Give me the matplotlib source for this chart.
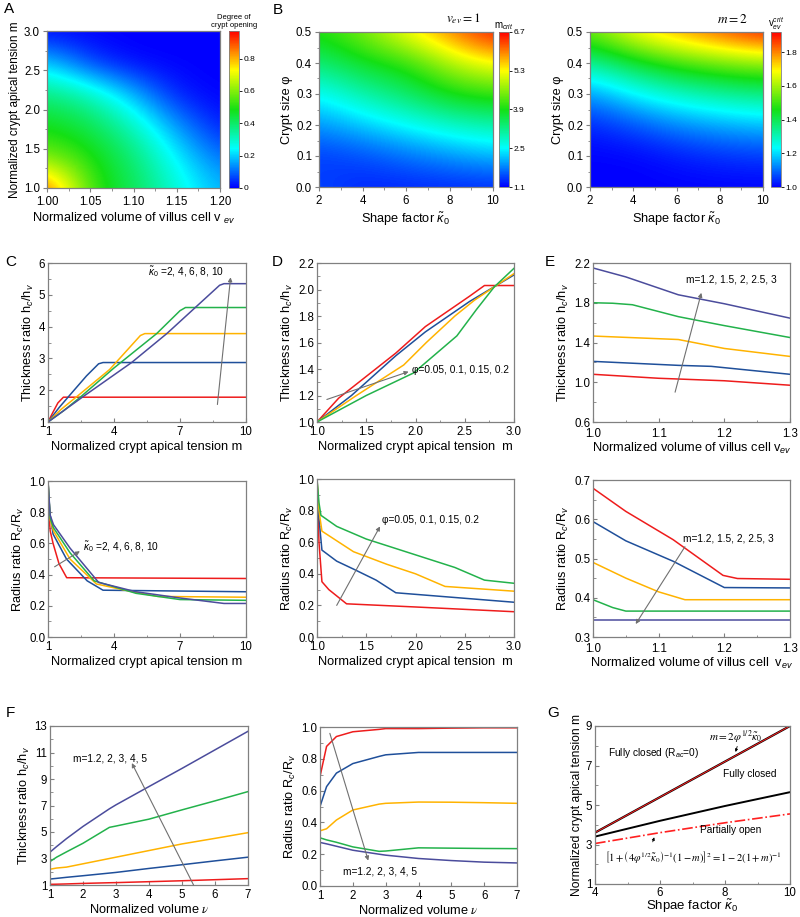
import numpy as np
import matplotlib
matplotlib.use('Agg')
import matplotlib.pyplot as plt
from matplotlib.colors import LinearSegmentedColormap
from matplotlib.ticker import AutoMinorLocator

plt.rcParams['font.family'] = ['Liberation Sans', 'DejaVu Sans']
plt.rcParams['mathtext.fontset'] = 'custom'
plt.rcParams['mathtext.rm'] = 'Liberation Sans'
plt.rcParams['mathtext.it'] = 'Liberation Sans:italic'
plt.rcParams['mathtext.bf'] = 'Liberation Sans:bold'
plt.rcParams['axes.edgecolor'] = '#808080'
plt.rcParams['axes.linewidth'] = 0.9

# ---------------- data ----------------
# A: degree of crypt opening, rows = m, cols = v_ev
a_vev = [1.00, 1.05, 1.10, 1.15, 1.20]
a_m = [1.0, 1.4, 1.8, 2.2, 2.6, 3.0]
a_open = [[0.92, 0.52, 0.42, 0.28, 0.17],
          [0.58, 0.50, 0.39, 0.23, 0.10],
          [0.48, 0.43, 0.31, 0.14, 0.02],
          [0.38, 0.32, 0.17, 0.02, 0.00],
          [0.20, 0.05, 0.00, 0.00, 0.00],
          [0.00, 0.00, 0.00, 0.00, 0.00]]

# B: m_crit and v_ev^crit, rows = phi, cols = kappa0
b_kappa = [2, 4, 6, 8, 10]
b_phi = [0.0, 0.1, 0.2, 0.3, 0.4, 0.5]
b_mcrit = [[1.5, 1.3, 1.3, 1.3, 1.3],
           [1.4, 1.5, 1.7, 1.9, 2.1],
           [1.9, 2.2, 2.5, 2.8, 3.0],
           [2.5, 3.0, 3.4, 3.9, 4.1],
           [3.3, 3.8, 4.0, 4.8, 5.3],
           [4.0, 4.5, 5.3, 6.0, 6.7]]
b_vcrit = [[1.00, 1.00, 1.00, 1.00, 1.00],
           [1.00, 1.00, 1.02, 1.04, 1.05],
           [1.03, 1.07, 1.12, 1.15, 1.17],
           [1.13, 1.22, 1.28, 1.32, 1.35],
           [1.32, 1.42, 1.50, 1.55, 1.58],
           [1.55, 1.70, 1.78, 1.85, 1.92]]

line_colors = ['#ee1c1c', '#1f4f9a', '#ffb300', '#23b24b', '#4b4c9c']

# C: kappa0 = 2, 4, 6, 8, 10
c_top_m = [[1, 1.22, 1.45, 1.7, 10],
           [1, 1.5, 2.06, 2.75, 3.3, 3.5, 10],
           [1, 1.6, 2.4, 3.8, 5.2, 5.4, 10],
           [1, 1.7, 2.5, 4.0, 5.94, 7.0, 7.25, 10],
           [1, 1.8, 2.6, 4.8, 6.4, 8.8, 9.0, 10]]
c_top_h = [[1, 1.3, 1.6, 1.78, 1.78],
           [1, 1.45, 1.9, 2.45, 2.83, 2.87, 2.87],
           [1, 1.4, 1.85, 2.65, 3.72, 3.78, 3.78],
           [1, 1.35, 1.8, 2.7, 3.78, 4.5, 4.6, 4.6],
           [1, 1.4, 1.8, 2.87, 3.78, 5.3, 5.35, 5.35]]
c_bot_m = [[1, 1.03, 1.1, 1.23, 1.5, 1.85, 10],
           [1, 1.08, 1.23, 1.84, 2.78, 3.5, 10],
           [1, 1.1, 1.25, 2.0, 3.2, 4.5, 6, 10],
           [1, 1.1, 1.25, 2.0, 3.1, 5, 7, 10],
           [1, 1.1, 1.25, 2.0, 3.3, 5, 7, 9, 10]]
c_bot_r = [[1, 0.8, 0.68, 0.6, 0.47, 0.38, 0.375],
           [1, 0.8, 0.66, 0.5, 0.36, 0.3, 0.29],
           [1, 0.75, 0.68, 0.5, 0.34, 0.3, 0.26, 0.255],
           [1, 0.76, 0.7, 0.54, 0.36, 0.28, 0.24, 0.235],
           [1, 0.78, 0.72, 0.57, 0.35, 0.29, 0.25, 0.215, 0.215]]

# D: phi = 0.05, 0.1, 0.15, 0.2
d_top_m = [[1, 1.22, 1.8, 2.1, 2.55, 2.7, 3],
           [1, 1.35, 1.8, 2.1, 2.55, 3],
           [1, 1.4, 1.88, 2.11, 2.4, 2.6, 3],
           [1, 1.5, 1.98, 2.42, 2.62, 2.8, 3]]
d_top_h = [[1, 1.18, 1.52, 1.72, 1.95, 2.03, 2.03],
           [1, 1.2, 1.5, 1.68, 1.91, 2.11],
           [1, 1.2, 1.43, 1.6, 1.8, 1.92, 2.12],
           [1, 1.2, 1.37, 1.65, 1.85, 2.02, 2.16]]
d_bot_m = [[1, 1.02, 1.05, 1.12, 1.3, 2.0, 3],
           [1, 1.02, 1.05, 1.2, 1.37, 1.6, 1.8, 3],
           [1, 1.02, 1.05, 1.37, 1.71, 2.0, 2.3, 3],
           [1, 1.02, 1.04, 1.2, 1.5, 2.0, 2.4, 2.7, 3]]
d_bot_r = [[1, 0.6, 0.35, 0.3, 0.21, 0.19, 0.16],
           [1, 0.75, 0.55, 0.48, 0.43, 0.36, 0.28, 0.22],
           [1, 0.8, 0.67, 0.54, 0.46, 0.4, 0.32, 0.29],
           [1, 0.85, 0.77, 0.7, 0.62, 0.52, 0.44, 0.36, 0.34]]

# E: m = 1.2, 1.5, 2, 2.5, 3
e_top_v = [[1.0, 1.1, 1.2, 1.3],
           [1.0, 1.13, 1.18, 1.3],
           [1.0, 1.13, 1.2, 1.3],
           [1.0, 1.03, 1.06, 1.13, 1.2, 1.3],
           [1.0, 1.05, 1.13, 1.2, 1.3]]
e_top_h = [[1.08, 1.04, 1.015, 0.97],
           [1.21, 1.17, 1.16, 1.08],
           [1.465, 1.43, 1.34, 1.26],
           [1.80, 1.795, 1.78, 1.66, 1.57, 1.45],
           [2.15, 2.06, 1.88, 1.79, 1.645]]
e_bot_v = [[1.0, 1.05, 1.122, 1.198, 1.22, 1.3],
           [1.0, 1.05, 1.122, 1.2, 1.3],
           [1.0, 1.05, 1.1, 1.14, 1.3],
           [1.0, 1.03, 1.05, 1.3],
           [1.0, 1.3]]
e_bot_r = [[0.679, 0.62, 0.548, 0.457, 0.449, 0.447],
           [0.594, 0.545, 0.493, 0.426, 0.425],
           [0.49, 0.45, 0.415, 0.395, 0.395],
           [0.395, 0.375, 0.366, 0.366],
           [0.343, 0.343]]

# F: m = 1.2, 2, 3, 4, 5
f_nu = [1, 1.2, 1.5, 2, 2.8, 3, 4, 5, 6, 7]
f_h = [[1.05, 1.06, 1.08, 1.12, 1.17, 1.18, 1.25, 1.32, 1.40, 1.48],
       [1.45, 1.50, 1.58, 1.70, 1.90, 1.95, 2.25, 2.53, 2.82, 3.10],
       [2.19, 2.28, 2.35, 2.60, 3.00, 3.10, 3.60, 4.10, 4.52, 4.95],
       [2.77, 3.10, 3.50, 4.15, 5.35, 5.45, 5.97, 6.67, 7.35, 8.05],
       [3.48, 3.90, 4.50, 5.42, 6.75, 7.05, 8.43, 9.80, 11.2, 12.6]]
f_r = [[0.688, 0.878, 0.94, 0.97, 0.985, 0.99, 0.99, 0.993, 0.995, 0.995],
       [0.50, 0.625, 0.71, 0.77, 0.815, 0.825, 0.84, 0.84, 0.84, 0.84],
       [0.347, 0.36, 0.415, 0.478, 0.515, 0.52, 0.528, 0.527, 0.524, 0.52],
       [0.303, 0.29, 0.275, 0.246, 0.218, 0.22, 0.24, 0.238, 0.236, 0.235],
       [0.274, 0.265, 0.25, 0.225, 0.2, 0.194, 0.173, 0.16, 0.15, 0.145]]

# G: phase boundaries
g_kappa = [4, 6, 8, 10]
g_closed = [3.6, 5.4, 7.2, 9.0]
g_mid = [3.4, 4.2, 4.95, 5.65]
g_partial = [3.05, 3.6, 4.1, 4.55]

# ---------------- figure ----------------
W, H = 800, 917
fig = plt.figure(figsize=(W / 100, H / 100), dpi=100)


def px_rect(x0, y0, x1, y1):
    return [x0 / W, 1 - y1 / H, (x1 - x0) / W, (y1 - y0) / H]


rainbow = LinearSegmentedColormap.from_list(
    'rainbow_origin', ['#0000ff', '#00ffff', '#14e014', '#ffff00', '#ff0000'])

TICK = 8.3
LAB = 9.2
NOTE = 7.3


def style(ax, xminor=2, yminor=2):
    ax.xaxis.set_minor_locator(AutoMinorLocator(xminor))
    ax.yaxis.set_minor_locator(AutoMinorLocator(yminor))
    ax.tick_params(which='both', direction='in', labelsize=TICK, color='#808080',
                   top=False, right=False, pad=2)
    ax.tick_params(axis='x', which='major', pad=3)
    ax.tick_params(which='major', length=3)
    ax.tick_params(which='minor', length=1.8)


def heat(rect, crect, x, y, z, vmin, vmax, cticks, clabels, xticks, yticks):
    ax = fig.add_axes(px_rect(*rect))
    dx = (x[-1] - x[0]) / (len(x) - 1)
    dy = (y[-1] - y[0]) / (len(y) - 1)
    im = ax.imshow(np.array(z), origin='lower', cmap=rainbow, vmin=vmin, vmax=vmax,
                   extent=[x[0] - dx / 2, x[-1] + dx / 2, y[0] - dy / 2, y[-1] + dy / 2],
                   aspect='auto', interpolation='bicubic')
    ax.set_xlim(x[0], x[-1])
    ax.set_ylim(y[0], y[-1])
    ax.set_xticks(xticks)
    ax.set_yticks(yticks)
    style(ax)
    ax.tick_params(which='both', direction='out')
    cax = fig.add_axes(px_rect(*crect))
    cb = fig.colorbar(im, cax=cax)
    cb.set_ticks(cticks)
    cb.set_ticklabels(clabels)
    cb.ax.tick_params(labelsize=6, length=2, width=0.6, pad=1)
    cb.outline.set_linewidth(0.6)
    return ax, cax


def lines(ax, xs, ys, cols):
    for x, y, c in zip(xs, ys, cols):
        ax.plot(x, y, color=c, lw=1.1)


arrow_kw = dict(arrowstyle='-|>', color='#707070', lw=0.8, mutation_scale=6,
                shrinkA=0, shrinkB=0)

# ----- A -----
axA, caxA = heat((47, 31, 220, 188), (229, 31, 239, 188), a_vev, a_m, a_open,
                 0, 0.97, [0, 0.2, 0.4, 0.6, 0.8], ['0', '0.2', '0.4', '0.6', '0.8'],
                 a_vev, [1.0, 1.5, 2.0, 2.5, 3.0])
axA.set_xticklabels(['1.00', '1.05', '1.10', '1.15', '1.20'])
axA.set_yticklabels(['1.0', '1.5', '2.0', '2.5', '3.0'])
axA.set_xlabel('Normalized volume of villus cell v $_{ev}$', fontsize=LAB, labelpad=2)
axA.set_ylabel('Normalized crypt apical tension m', fontsize=LAB - 0.7, labelpad=2)
caxA.set_title('Degree of\ncrypt opening', fontsize=5.5, pad=3)

# ----- B (v_ev = 1) -----
axB, caxB = heat((319, 32, 493, 187), (499, 32, 509, 187), b_kappa, b_phi, b_mcrit,
                 1.1, 6.7, [1.1, 2.5, 3.9, 5.3, 6.7], ['1.1', '2.5', '3.9', '5.3', '6.7'],
                 b_kappa, b_phi)
axB.set_yticklabels(['0.0', '0.1', '0.2', '0.3', '0.4', '0.5'])
axB.set_xlabel(r'Shape factor $\tilde{\kappa}_0$', fontsize=LAB, labelpad=2)
axB.set_ylabel('Crypt size φ', fontsize=LAB, labelpad=2)
axB.text(0.93, 1.04, r'$v_{ev}=1$', transform=axB.transAxes, ha='right', va='bottom',
         fontsize=9.5, math_fontfamily='stix')
caxB.set_title(r'm$_{crit}$', fontsize=7, pad=3)

# ----- B (m = 2) -----
axB2, caxB2 = heat((590, 32, 763, 187), (771, 32, 781, 187), b_kappa, b_phi, b_vcrit,
                   1.0, 1.92, [1.0, 1.2, 1.4, 1.6, 1.8], ['1.0', '1.2', '1.4', '1.6', '1.8'],
                   b_kappa, b_phi)
axB2.set_yticklabels(['0.0', '0.1', '0.2', '0.3', '0.4', '0.5'])
axB2.set_xlabel(r'Shape factor $\tilde{\kappa}_0$', fontsize=LAB, labelpad=2)
axB2.set_ylabel('Crypt size φ', fontsize=LAB, labelpad=2)
axB2.text(0.91, 1.04, r'$m=2$', transform=axB2.transAxes, ha='right', va='bottom',
          fontsize=9.5, math_fontfamily='stix')
caxB2.set_title(r'v$_{ev}^{crit}$', fontsize=7, pad=3)

# ----- C -----
axC1 = fig.add_axes(px_rect(48, 263, 246, 422))
lines(axC1, c_top_m, c_top_h, line_colors)
axC1.set_xlim(1, 10)
axC1.set_ylim(1, 6)
axC1.set_xticks([1, 4, 7, 10])
axC1.set_yticks([1, 2, 3, 4, 5, 6])
style(axC1)
axC1.set_xlabel('Normalized crypt apical tension m', fontsize=LAB, labelpad=2)
axC1.set_ylabel(r'Thickness ratio h$_c$/h$_v$', fontsize=LAB, labelpad=2)
axC1.annotate('', xy=(9.3, 5.55), xytext=(8.7, 1.55), arrowprops=arrow_kw)
axC1.text(9.0, 5.72, r'$\tilde{\kappa}_0$ =2, 4, 6, 8, 10', ha='right', va='center',
          fontsize=NOTE)

axC2 = fig.add_axes(px_rect(48, 481, 246, 637))
lines(axC2, c_bot_m, c_bot_r, line_colors)
axC2.set_xlim(1, 10)
axC2.set_ylim(0, 1)
axC2.set_xticks([1, 4, 7, 10])
axC2.set_yticks([0, 0.2, 0.4, 0.6, 0.8, 1.0])
style(axC2)
axC2.set_xlabel('Normalized crypt apical tension m', fontsize=LAB, labelpad=2)
axC2.set_ylabel(r'Radius ratio R$_c$/R$_v$', fontsize=LAB, labelpad=2)
axC2.annotate('', xy=(2.45, 0.55), xytext=(1.3, 0.45), arrowprops=arrow_kw)
axC2.text(2.6, 0.58, r'$\tilde{\kappa}_0$ =2, 4, 6, 8, 10', ha='left', va='center',
          fontsize=NOTE)

# ----- D -----
axD1 = fig.add_axes(px_rect(317, 263, 514, 422))
lines(axD1, d_top_m, d_top_h, line_colors[:4])
axD1.set_xlim(1, 3)
axD1.set_ylim(1.0, 2.2)
axD1.set_xticks([1.0, 1.5, 2.0, 2.5, 3.0])
axD1.set_yticks([1.0, 1.2, 1.4, 1.6, 1.8, 2.0, 2.2])
style(axD1)
axD1.set_xlabel('Normalized crypt apical tension  m', fontsize=LAB, labelpad=2)
axD1.set_ylabel(r'Thickness ratio h$_c$/h$_v$', fontsize=LAB, labelpad=2)
axD1.annotate('', xy=(1.93, 1.38), xytext=(1.1, 1.17), arrowprops=arrow_kw)
axD1.text(1.96, 1.39, 'φ=0.05, 0.1, 0.15, 0.2', ha='left', va='center', fontsize=NOTE)

axD2 = fig.add_axes(px_rect(317, 479, 514, 637))
lines(axD2, d_bot_m, d_bot_r, line_colors[:4])
axD2.set_xlim(1, 3)
axD2.set_ylim(0, 1)
axD2.set_xticks([1.0, 1.5, 2.0, 2.5, 3.0])
axD2.set_yticks([0, 0.2, 0.4, 0.6, 0.8, 1.0])
style(axD2)
axD2.set_xlabel('Normalized crypt apical tension  m', fontsize=LAB, labelpad=2)
axD2.set_ylabel(r'Radius ratio R$_c$/R$_v$', fontsize=LAB, labelpad=2)
axD2.annotate('', xy=(1.64, 0.7), xytext=(1.2, 0.2), arrowprops=arrow_kw)
axD2.text(1.66, 0.74, 'φ=0.05, 0.1, 0.15, 0.2', ha='left', va='center', fontsize=NOTE)

# ----- E -----
axE1 = fig.add_axes(px_rect(593, 263, 790, 422))
lines(axE1, e_top_v, e_top_h, line_colors)
axE1.set_xlim(1.0, 1.3)
axE1.set_ylim(0.6, 2.2)
axE1.set_xticks([1.0, 1.1, 1.2, 1.3])
axE1.set_yticks([0.6, 1.0, 1.4, 1.8, 2.2])
style(axE1)
axE1.tick_params(axis='x', which='major', pad=4)
axE1.set_xlabel('Normalized volume of villus cell v$_{ev}$', fontsize=LAB, labelpad=1)
axE1.set_ylabel(r'Thickness ratio h$_c$/h$_v$', fontsize=LAB, labelpad=2)
axE1.annotate('', xy=(1.165, 1.9), xytext=(1.125, 0.9), arrowprops=arrow_kw)
axE1.text(1.142, 2.03, 'm=1.2, 1.5, 2, 2.5, 3', ha='left', va='center', fontsize=NOTE)

axE2 = fig.add_axes(px_rect(593, 480, 790, 637))
lines(axE2, e_bot_v, e_bot_r, line_colors)
axE2.set_xlim(1.0, 1.3)
axE2.set_ylim(0.3, 0.7)
axE2.set_xticks([1.0, 1.1, 1.2, 1.3])
axE2.set_yticks([0.3, 0.4, 0.5, 0.6, 0.7])
style(axE2)
axE2.tick_params(axis='x', which='major', pad=4)
axE2.set_xlabel('Normalized volume of villus cell  v$_{ev}$', fontsize=LAB, labelpad=1)
axE2.set_ylabel(r'Radius ratio R$_c$/R$_v$', fontsize=LAB, labelpad=2)
axE2.annotate('', xy=(1.065, 0.333), xytext=(1.14, 0.53), arrowprops=arrow_kw)
axE2.text(1.137, 0.552, 'm=1.2, 1.5, 2, 2.5, 3', ha='left', va='center', fontsize=NOTE)

# ----- F -----
axF1 = fig.add_axes(px_rect(50, 726, 248, 885))
lines(axF1, [f_nu] * 5, f_h, line_colors)
axF1.set_xlim(1, 7)
axF1.set_ylim(1, 13)
axF1.set_xticks([1, 2, 3, 4, 5, 6, 7])
axF1.set_yticks([1, 3, 5, 7, 9, 11, 13])
style(axF1, 1, 2)
axF1.set_xlabel(r'Normalized volume $\nu$', fontsize=LAB, labelpad=1,
                math_fontfamily='stix')
axF1.set_ylabel(r'Thickness ratio h$_c$/h$_v$', fontsize=LAB, labelpad=2)
axF1.annotate('', xy=(3.48, 10.2), xytext=(5.35, 1.0), arrowprops=arrow_kw)
axF1.text(1.7, 10.55, 'm=1.2, 2, 3, 4, 5', ha='left', va='center', fontsize=NOTE)

axF2 = fig.add_axes(px_rect(320, 727, 517, 886))
lines(axF2, [f_nu] * 5, f_r, line_colors)
axF2.set_xlim(1, 7)
axF2.set_ylim(0, 1)
axF2.set_xticks([1, 2, 3, 4, 5, 6, 7])
axF2.set_yticks([0, 0.2, 0.4, 0.6, 0.8, 1.0])
style(axF2, 1, 2)
axF2.set_xlabel(r'Normalized volume $\nu$', fontsize=LAB, labelpad=1,
                math_fontfamily='stix')
axF2.set_ylabel(r'Radius ratio R$_c$/R$_v$', fontsize=LAB, labelpad=2)
axF2.annotate('', xy=(2.47, 0.16), xytext=(1.3, 0.96), arrowprops=arrow_kw)
axF2.text(1.71, 0.093, 'm=1.2, 2, 3, 4, 5', ha='left', va='center', fontsize=NOTE)

# ----- G -----
axG = fig.add_axes(px_rect(595, 726, 790, 884))
axG.plot(g_kappa, g_closed, color='black', lw=1.6)
axG.plot(g_kappa, g_closed, color='#ff2020', lw=0.7)
axG.plot(g_kappa, g_mid, color='black', lw=1.4)
axG.plot(g_kappa, g_partial, color='#ff2020', lw=1.2, ls='-.')
axG.set_xlim(4, 10)
axG.set_ylim(1, 9)
axG.set_xticks([4, 6, 8, 10])
axG.set_yticks([1, 3, 5, 7, 9])
style(axG)
axG.tick_params(axis='x', which='major', pad=2)
axG.set_xlabel(r'Shpae factor $\tilde{\kappa}_0$', fontsize=LAB + 0.3, labelpad=-1)
axG.set_ylabel('Normalized crypt apical tension m', fontsize=LAB - 0.5, labelpad=2)
axG.text(4.41, 7.63, r'Fully closed (R$_{ac}$=0)', fontsize=NOTE, ha='left', va='center')
axG.text(7.95, 6.55, 'Fully closed', fontsize=NOTE, ha='left', va='center')
axG.text(7.23, 3.72, 'Partially open', fontsize=NOTE, ha='left', va='center')
axG.text(7.5, 8.47, r'$m=2\varphi^{1/2}\tilde{\kappa}_0$', fontsize=8, ha='left',
         va='center', math_fontfamily='stix')
axG.annotate('', xy=(8.3, 7.55), xytext=(8.4, 8.1),
             arrowprops=dict(arrowstyle='-|>', color='black', lw=0.6, mutation_scale=4))
axG.text(4.3, 2.38,
         r'$\left[1+\left(4\varphi^{1/2}\tilde{\kappa}_0\right)^{-1}(1-m)\right]^2=1-2(1+m)^{-1}$',
         fontsize=7.6, ha='left', va='center', math_fontfamily='stix')
axG.annotate('', xy=(5.85, 3.5), xytext=(5.75, 3.0),
             arrowprops=dict(arrowstyle='-|>', color='black', lw=0.6, mutation_scale=4))

# panel letters
for lab, (x, y) in {'A': (4, 9), 'B': (273, 10), 'C': (5, 262), 'D': (272, 262),
                    'E': (545, 262), 'F': (6, 713), 'G': (547, 713)}.items():
    fig.text(x / W, 1 - y / H, lab, fontsize=11, ha='left', va='center')

fig.savefig('out.png', dpi=100)
